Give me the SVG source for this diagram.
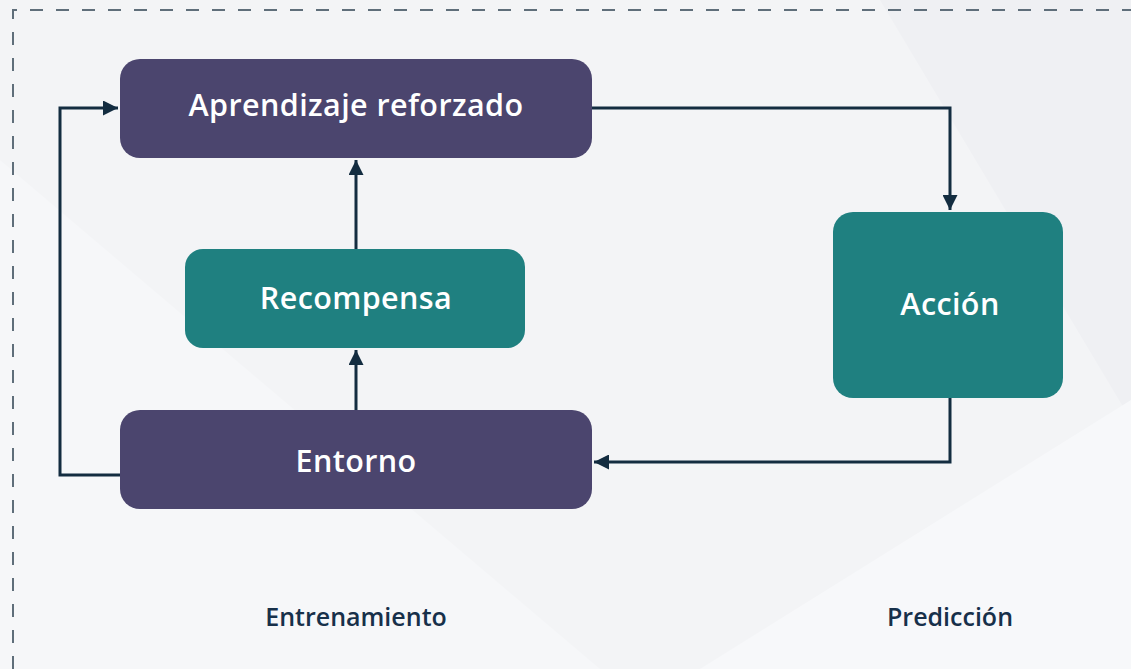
<svg xmlns="http://www.w3.org/2000/svg" width="1131" height="669" viewBox="0 0 1131 669">
<defs>
<style>
.bg{fill:#f3f4f6}
.frame{fill:none;stroke:#5f6e7a;stroke-width:2;stroke-dasharray:13 13}
.purple{fill:#4b456e}
.teal{fill:#1f8080}
.lbl{font-family:"Open Sans","Noto Sans",sans-serif;font-size:30.5px;font-weight:600;letter-spacing:0.4px;fill:#ffffff;text-anchor:middle}
.cap{font-family:"Open Sans","Noto Sans",sans-serif;font-size:25px;font-weight:600;fill:#17304a;text-anchor:middle}
.wire{fill:none;stroke:#132c40;stroke-width:3}
</style>
<marker id="arr" viewBox="0 0 10 10" refX="10" refY="5" markerWidth="5" markerHeight="5" markerUnits="strokeWidth" orient="auto">
<path d="M0,0 L10,5 L0,10 z" fill="#132c40"/>
</marker>
</defs>
<rect class="bg" x="0" y="0" width="1131" height="669"/>
<polygon points="0,160 600,669 0,669" fill="#f6f7f9"/>
<polygon points="880,0 1131,0 1131,420" fill="#eff0f3"/>
<polygon points="700,669 1131,400 1131,669" fill="#f7f8fa"/>
<path class="frame" d="M13,669 L13,10 L1131,10"/>
<g id="connectors">
<path class="wire" d="M592,108 L950,108 L950,210" marker-end="url(#arr)"/>
<path class="wire" d="M950,398 L950,462 L594,462" marker-end="url(#arr)"/>
<path class="wire" d="M120,475 L60,475 L60,108 L118,108" marker-end="url(#arr)"/>
<path class="wire" d="M356,410 L356,350" marker-end="url(#arr)"/>
<path class="wire" d="M356,249 L356,160" marker-end="url(#arr)"/>
</g>
<g id="aprendizaje">
<rect class="purple" x="120" y="59" width="472" height="99" rx="20"/>
<text class="lbl" x="356" y="116">Aprendizaje reforzado</text>
</g>
<g id="recompensa">
<rect class="teal" x="185" y="249" width="340" height="99" rx="18"/>
<text class="lbl" x="356" y="309">Recompensa</text>
</g>
<g id="entorno">
<rect class="purple" x="120" y="410" width="472" height="99" rx="20"/>
<text class="lbl" x="356" y="472">Entorno</text>
</g>
<g id="accion">
<rect class="teal" x="833" y="212" width="230" height="186" rx="20"/>
<text class="lbl" x="950" y="315">Acción</text>
</g>
<g id="captions">
<text class="cap" x="356" y="626">Entrenamiento</text>
<text class="cap" x="950" y="626">Predicción</text>
</g>
</svg>
